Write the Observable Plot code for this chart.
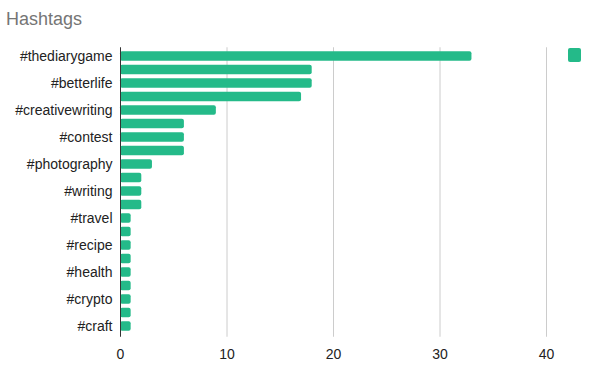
<!DOCTYPE html>
<html>
<head>
<meta charset="utf-8">
<script src="https://cdn.jsdelivr.net/npm/d3@7"></script>
<script src="https://cdn.jsdelivr.net/npm/@observablehq/plot@0.6"></script>
<style>
  html, body { margin: 0; padding: 0; background: #fff; }
  #wrap { position: relative; width: 592px; height: 375px; font-family: Arial, "Liberation Sans", sans-serif; }
  #title { position: absolute; left: 6px; top: 9px; font-size: 18px; color: #757575; }
  #swatch { position: absolute; left: 568px; top: 48px; width: 13px; height: 14px; border-radius: 2px; background: #24ba89; }
</style>
</head>
<body>
<div id="wrap">
  <div id="title">Hashtags</div>
  <div id="swatch"></div>
</div>
<script>
const hashtags = ["#thediarygame","#life","#betterlife","#blog","#creativewriting","#poetry","#contest","#story","#photography","#music","#writing","#art","#travel","#food","#recipe","#motivation","#health","#fitness","#crypto","#news","#craft"];
const counts = [33,18,18,17,9,6,6,6,3,2,2,2,1,1,1,1,1,1,1,1,1];
const xTicks = [0,10,20,30,40];
const shownLabels = hashtags.filter((d, i) => i % 2 === 0);
const color = "#24ba89";

const data = hashtags.map((h, i) => ({tag: h, count: counts[i]}));

const chart = Plot.plot({
  width: 592,
  height: 375,
  marginTop: 49.25,
  marginBottom: 42.25,
  marginLeft: 120,
  marginRight: 46,
  style: {fontFamily: "Arial, 'Liberation Sans', sans-serif", fontSize: "14px", color: "#222", background: "transparent"},
  x: {domain: [0, 40], ticks: xTicks},
  y: {domain: hashtags, paddingInner: 0.3, paddingOuter: 0.15, round: false},
  marks: [
    Plot.gridX(xTicks.filter(d => d > 0), {stroke: "#cccccc", strokeOpacity: 1, strokeWidth: 1, insetTop: -2, insetBottom: -4}),
    Plot.barX(data, {x: "count", y: "tag", fill: color, rx: 2}),
    Plot.ruleX([0], {stroke: "#333", strokeWidth: 1, insetTop: -2, insetBottom: -4}),
    Plot.axisX({ticks: xTicks, tickSize: 0, tickPadding: 16, label: null, fill: "#222"}),
    Plot.axisY({ticks: shownLabels, tickSize: 0, tickPadding: 8, label: null, fill: "#222"})
  ]
});
document.getElementById("wrap").prepend(chart);
chart.style.position = "absolute";
chart.style.left = "0";
chart.style.top = "0";
</script>
</body>
</html>
